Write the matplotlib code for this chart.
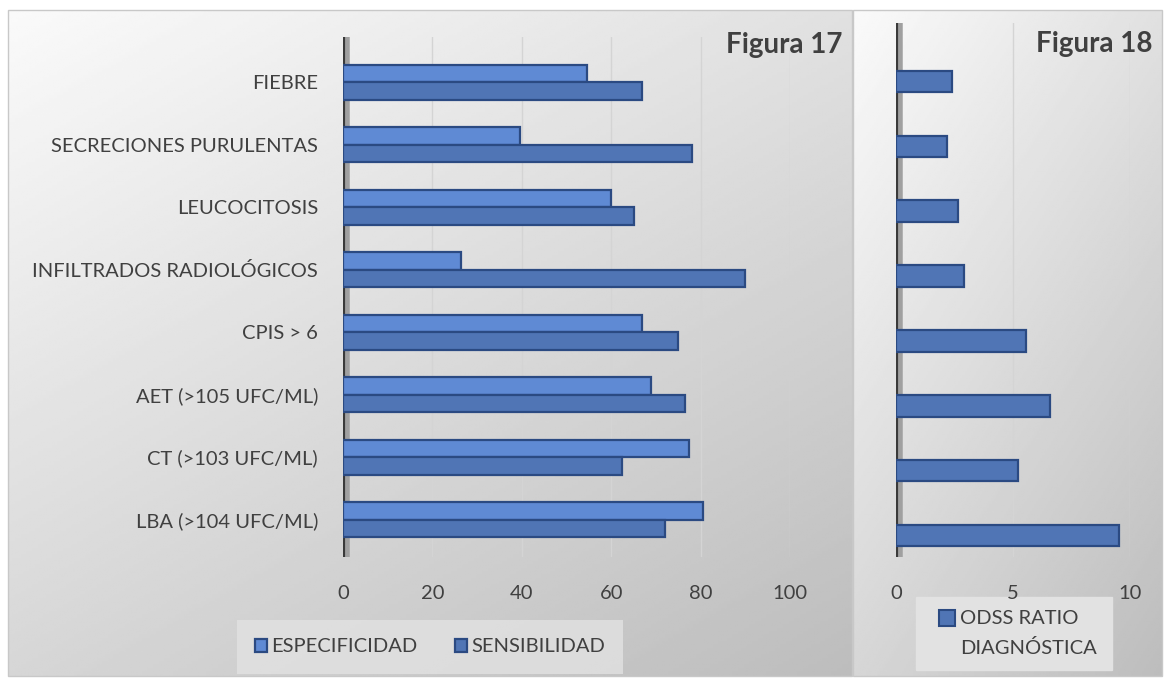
import numpy as np
import matplotlib.pyplot as plt
from matplotlib.patches import Rectangle

plt.rcParams['font.family'] = ['Lato', 'DejaVu Sans']

# Data (top to bottom in the chart)
categorias = ['FIEBRE', 'SECRECIONES PURULENTAS', 'LEUCOCITOSIS',
              'INFILTRADOS RADIOLÓGICOS', 'CPIS > 6', 'AET (>105 UFC/ML)',
              'CT (>103 UFC/ML)', 'LBA (>104 UFC/ML)']
especificidad = [54.5, 39.5, 60, 26.5, 67, 69, 77.5, 80.5]
sensibilidad = [67, 78, 65, 90, 75, 76.5, 62.5, 72]
odds_ratio = [2.4, 2.2, 2.65, 2.9, 5.55, 6.6, 5.2, 9.55]

W, H = 1169, 682
C_ESP = '#5F8AD4'
C_SEN = '#5075B5'
C_EDGE = '#2B4A82'
C_TXT = '#404040'
FS = 14.5


def fx(px):
    return px / W


def fy(py):
    return 1 - py / H


fig = plt.figure(figsize=(W / 100, H / 100), dpi=100)

# background panels with a light gradient (pixel coordinates)
bg = fig.add_axes([0, 0, 1, 1])
bg.axis('off')
xx, yy = np.meshgrid(np.linspace(0, 1, 300), np.linspace(0, 1, 200))
grad = 0.98 - 0.10 * xx - 0.14 * yy
bg.add_patch(Rectangle((0, 0), W, H, color='white', zorder=0))
for x0, x1 in [(8, 852), (853, 1162)]:
    bg.imshow(grad, extent=(x0, x1, 676, 10), cmap='gray', vmin=0, vmax=1,
              aspect='auto', zorder=1)
    bg.add_patch(Rectangle((x0, 10), x1 - x0, 666, fill=False,
                           edgecolor='#C8C8C8', lw=1, zorder=2))
bg.set_xlim(0, W)
bg.set_ylim(H, 0)


def style_axes(ax, xmax, ticks):
    ax.set_facecolor('none')
    for s in ax.spines.values():
        s.set_visible(False)
    ax.set_xlim(0, xmax)
    ax.set_xticks(ticks)
    ax.grid(axis='x', color='#D4D4D4', lw=1)
    ax.set_axisbelow(True)
    ax.tick_params(length=0, labelsize=FS, colors=C_TXT, pad=20)
    # wall of the 3D axis: grey strip and dark line
    ax.axvline(0, color='#A0A0A0', lw=9, zorder=3)
    ax.axvline(0, color='#3A3A3A', lw=3, zorder=4)


n = len(categorias)
pos = np.arange(n)[::-1]
h = 0.28

# Figura 17
ax1 = fig.add_axes([fx(343), fy(557), fx(790 - 343), fy(37) - fy(557)])
ax1.barh(pos + h / 2, especificidad, height=h, color=C_ESP, edgecolor=C_EDGE,
         lw=1.6, label='ESPECIFICIDAD', zorder=5)
ax1.barh(pos - h / 2, sensibilidad, height=h, color=C_SEN, edgecolor=C_EDGE,
         lw=1.6, label='SENSIBILIDAD', zorder=5)
style_axes(ax1, 100, [0, 20, 40, 60, 80, 100])
ax1.set_ylim(-0.6, 7.72)
ax1.set_yticks(pos)
ax1.set_yticklabels(categorias)
ax1.tick_params(axis='y', pad=18)
fig.text(fx(843), fy(45), 'Figura 17', ha='right', va='center',
         fontsize=20, fontweight='bold', color=C_TXT)
leg1 = fig.legend(*ax1.get_legend_handles_labels(), loc='center',
                  bbox_to_anchor=(fx(430), fy(647)), ncol=2, frameon=True,
                  fontsize=FS, handlelength=0.6, handleheight=0.6,
                  handletextpad=0.2, columnspacing=1.9, borderpad=0.6)
leg1.get_frame().set_facecolor('#E2E2E2')
leg1.get_frame().set_edgecolor('none')
leg1.get_frame().set_boxstyle('square', pad=0.3)
for t in leg1.get_texts():
    t.set_color(C_TXT)

# Figura 18
ax2 = fig.add_axes([fx(896), fy(557), fx(1130 - 896), fy(23) - fy(557)])
ax2.barh(pos, odds_ratio, height=0.33, color=C_SEN, edgecolor=C_EDGE, lw=1.6,
         zorder=5)
style_axes(ax2, 10, [0, 5, 10])
ax2.set_ylim(-0.33, 7.9)
ax2.set_yticks([])
fig.text(fx(1152), fy(44), 'Figura 18', ha='right', va='center',
         fontsize=20, fontweight='bold', color=C_TXT)

# legend of Figura 18: marker next to the first line, text left-aligned
bg.add_patch(Rectangle((916, 597), 196, 73, color='#E2E2E2', zorder=3))
bg.add_patch(Rectangle((939, 610), 16, 16, facecolor=C_SEN,
                       edgecolor=C_EDGE, lw=1.5, zorder=4))
bg.text(960, 618, 'ODSS RATIO', fontsize=FS, color=C_TXT,
        ha='left', va='center', zorder=4)
bg.text(960, 648, 'DIAGNÓSTICA', fontsize=FS, color=C_TXT,
        ha='left', va='center', zorder=4)

fig.savefig('out.png', dpi=100)
